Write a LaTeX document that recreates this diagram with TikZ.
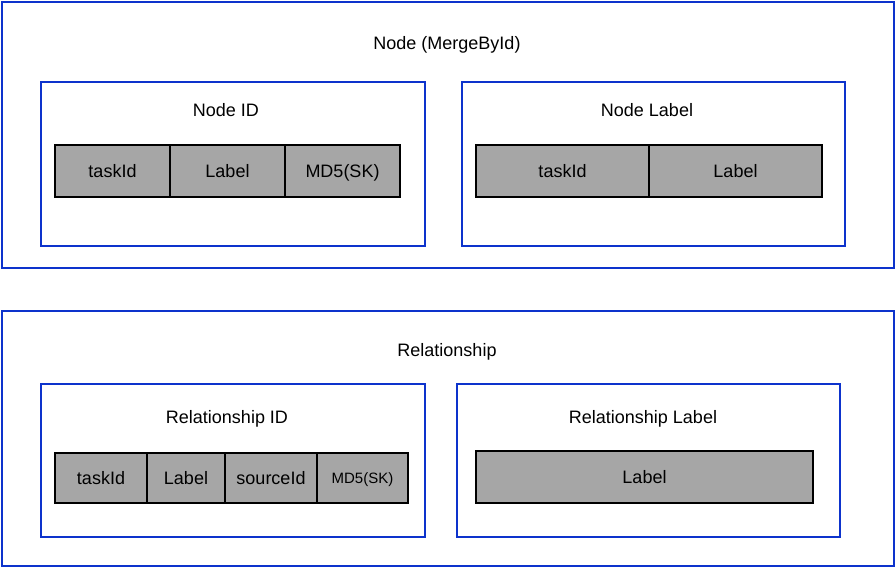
\documentclass[tikz,border=0pt]{standalone}
\usepackage{fontspec}
\setmainfont{Liberation Sans}
\definecolor{frameblue}{RGB}{13, 51, 204}
\definecolor{cellgray}{RGB}{166, 166, 166}

\begin{document}
\begin{tikzpicture}[
        x=1pt, y=-1pt,
        frame/.style={draw=frameblue, line width=1.5pt, inner sep=0pt, outer sep=0pt},
        cell/.style={draw=black, line width=1.5pt, fill=cellgray, inner sep=0pt, outer sep=0pt, minimum height=52pt, text height=16pt, text depth=4pt, font=\fontsize{18}{20}\selectfont},
        title/.style={font=\fontsize{18}{20}\selectfont, inner sep=0pt, anchor=base}
      ]
        \useasboundingbox (0, 0) rectangle (896, 568);
        % node part
        \node[frame, minimum width=892pt, minimum height=266pt] (nodebox) at (448, 135) {};
        \node[title] (nodetitle) at (447, 49) {Node (MergeById)};
        \node[frame, minimum width=384pt, minimum height=164pt] (nodeid) at (233, 164) {};
        \node[title] (nodeidtitle) at (226, 116) {Node ID};
        \node[cell, minimum width=115pt] (nidtask) at (112.5, 171) {taskId};
        \node[cell, minimum width=115pt] (nidlabel) at (227.5, 171) {Label};
        \node[cell, minimum width=115pt] (nidmd) at (342.5, 171) {MD5(SK)};
        \node[frame, minimum width=383pt, minimum height=164pt] (nodelabel) at (653.5, 164) {};
        \node[title] (nodelabeltitle) at (647, 116) {Node Label};
        \node[cell, minimum width=173pt] (nlbtask) at (562.5, 171) {taskId};
        \node[cell, minimum width=173pt] (nlblabel) at (735.5, 171) {Label};
        % relationship part
        \node[frame, minimum width=892pt, minimum height=255pt] (relbox) at (448, 438.5) {};
        \node[title] (reltitle) at (447, 356) {Relationship};
        \node[frame, minimum width=384pt, minimum height=153pt] (relid) at (233, 460.5) {};
        \node[title] (relidtitle) at (227, 423) {Relationship ID};
        \node[cell, minimum width=92pt, minimum height=50pt] (ridtask) at (101, 478) {taskId};
        \node[cell, minimum width=78pt, minimum height=50pt] (ridlabel) at (186, 478) {Label};
        \node[cell, minimum width=92pt, minimum height=50pt] (ridsource) at (271, 478) {sourceId};
        \node[cell, minimum width=91pt, minimum height=50pt, font=\fontsize{15}{18}\selectfont, text height=14pt, text depth=4pt] (ridmd) at (362.5, 478) {MD5(SK)};
        \node[frame, minimum width=383pt, minimum height=153pt] (rellabel) at (648.5, 460.5) {};
        \node[title] (rellabeltitle) at (643, 423) {Relationship Label};
        \node[cell, minimum width=337pt] (rlblabel) at (644.5, 477) {Label};
      \end{tikzpicture}
\end{document}
